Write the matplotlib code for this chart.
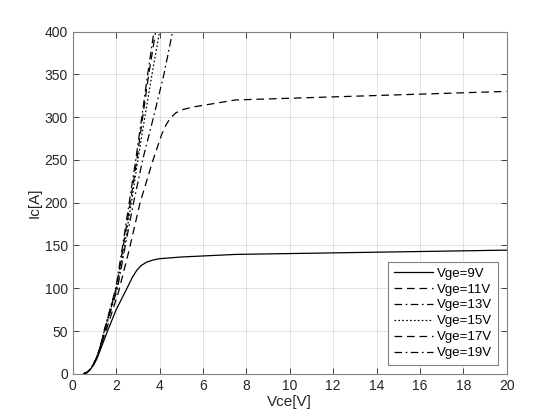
import matplotlib
matplotlib.use('Agg')
import matplotlib.pyplot as plt

plt.rcParams['font.family'] = ['Liberation Sans', 'DejaVu Sans']
plt.rcParams['lines.scale_dashes'] = False

# output characteristics, Vce in V, Ic in A
vce_9 = [0.5, 0.65, 0.8, 0.95, 1.1, 1.3, 1.6, 2.0, 2.5, 2.75, 2.95, 3.15, 3.4,
         3.7, 4.0, 5.0, 7.5, 10, 15, 20]
ic_9 = [0, 1.5, 5, 10, 17, 30, 50, 75, 100, 113, 121, 126.5, 130.5,
        133, 134.5, 136.5, 139.5, 140.5, 142.5, 144.5]

vce_11 = [0.5, 0.65, 0.8, 0.95, 1.1, 1.25, 1.5, 2.1, 2.6, 3.1, 3.7, 4.1, 4.3,
          4.5, 4.75, 5.1, 5.6, 7.5, 10, 15, 20]
ic_11 = [0, 1.5, 5, 11, 19, 30, 48, 95, 145, 200, 250, 280, 291,
         299, 305, 309, 312, 320, 322, 326, 330]

vce_13 = [0.5, 0.65, 0.8, 0.95, 1.1, 1.25, 1.47, 2.06, 2.42, 2.8, 3.22, 3.72, 4.2, 4.6]
ic_13 = [0, 1.5, 5, 11, 19, 30, 50, 100, 150, 200, 250, 300, 350, 400]

vce_15 = [0.5, 0.65, 0.8, 0.95, 1.1, 1.25, 1.45, 2.03, 2.38, 2.7, 3.0, 3.32, 3.65, 4.0]
ic_15 = [0, 1.5, 5, 11, 19, 30, 50, 100, 150, 200, 250, 300, 350, 400]

vce_17 = [0.5, 0.65, 0.8, 0.95, 1.1, 1.25, 1.45, 2.0, 2.33, 2.65, 2.95, 3.22, 3.5, 3.82]
ic_17 = [0, 1.5, 5, 11, 19, 30, 50, 100, 150, 200, 250, 300, 350, 400]

vce_19 = [0.5, 0.65, 0.8, 0.95, 1.1, 1.25, 1.44, 1.98, 2.3, 2.6, 2.9, 3.18, 3.45, 3.74]
ic_19 = [0, 1.5, 5, 11, 19, 30, 50, 100, 150, 200, 250, 300, 350, 400]

labels = ['Vge=9V', 'Vge=11V', 'Vge=13V', 'Vge=15V', 'Vge=17V', 'Vge=19V']
# MATLAB-like dash patterns, in points
dashes = [(None, None), (5.5, 3.5), (5.5, 2.5, 1.2, 2.5), (1.2, 1.6),
          (5.5, 3.5), (5.5, 2.5, 1.2, 2.5)]

fig = plt.figure(figsize=(5.6, 4.2), dpi=100)
ax = fig.add_axes([0.13, 0.11, 0.775, 0.815])

curves = [(vce_9, ic_9), (vce_11, ic_11), (vce_13, ic_13),
          (vce_15, ic_15), (vce_17, ic_17), (vce_19, ic_19)]
for (x, y), d, lab in zip(curves, dashes, labels):
    line, = ax.plot(x, y, '-', color='black', lw=0.9, label=lab)
    if d[0] is not None:
        line.set_dashes(d)

ax.set_xlim(0, 20)
ax.set_ylim(0, 400)
ax.set_xticks(range(0, 21, 2))
ax.set_yticks(range(0, 401, 50))
ax.grid(True, color='#262626', alpha=0.15, lw=0.6)

for s in ax.spines.values():
    s.set_color('#808080')
    s.set_linewidth(0.8)
ax.tick_params(direction='in', top=True, right=True, colors='#262626',
               labelsize=10, length=4, width=0.6)
for t in ax.get_xticklabels() + ax.get_yticklabels():
    t.set_color('#262626')

ax.set_xlabel('Vce[V]', fontsize=11, color='#262626', labelpad=2)
ax.set_ylabel('Ic[A]', fontsize=11, color='#262626', labelpad=2)

leg = ax.legend(loc='lower right', fontsize=9.5, handlelength=3.0,
                fancybox=False, framealpha=1, edgecolor='#808080',
                borderaxespad=0.7, labelspacing=0.28, handletextpad=0.3)
leg.get_frame().set_linewidth(0.8)

fig.savefig('out.png', dpi=100)
